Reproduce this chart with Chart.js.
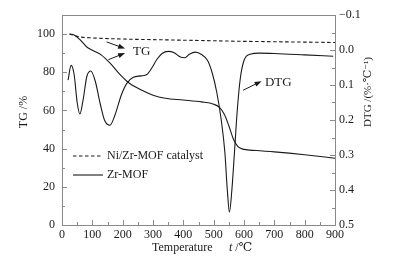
<!DOCTYPE html>
<html>
<head>
<meta charset="utf-8">
<script src="https://cdn.jsdelivr.net/npm/chart.js@4.4.0/dist/chart.umd.min.js"></script>
<style>
  html, body { margin: 0; padding: 0; background: #fff; }
  #wrap { width: 410px; height: 265px; }
</style>
</head>
<body>
<div id="wrap"><canvas id="chart"></canvas></div>
<script>
// values (temperature in °C)
const catTemp = [25, 60, 100, 200, 300, 400, 500, 600, 700, 800, 900];
const catTG   = [100, 98.5, 98, 97.4, 97.1, 96.8, 96.5, 96.2, 96, 95.8, 95.6];

const mofTemp = [25, 40, 60, 80, 100, 130, 160, 190, 220, 260, 300, 340, 400, 460, 500, 520, 535, 550, 565, 580, 600, 640, 700, 800, 900];
const mofTG   = [100, 99.5, 97, 93.5, 91.5, 89, 84.5, 79, 74.5, 70.8, 68, 66.4, 65.5, 64.5, 63.3, 61.5, 58, 52, 45, 41, 39.6, 39, 38.3, 36.8, 35];

const dtgTemp = [20, 30, 40, 50, 59, 70, 82, 95, 110, 125, 140, 158, 175, 195, 213, 235, 260, 280, 297, 312, 330, 350, 370, 390, 405, 420, 440, 460, 480, 495, 510, 525, 537, 545, 552, 560, 568, 578, 588, 600, 620, 650, 700, 800, 894];
const mofDTG  = [0.086, 0.044, 0.07, 0.15, 0.183, 0.14, 0.075, 0.06, 0.09, 0.15, 0.2, 0.215, 0.185, 0.13, 0.096, 0.078, 0.074, 0.07, 0.05, 0.028, 0.01, 0.004, 0.008, 0.02, 0.022, 0.012, 0.006, 0.013, 0.03, 0.065, 0.12, 0.2, 0.293, 0.4, 0.463, 0.4, 0.3, 0.17, 0.08, 0.03, 0.012, 0.009, 0.01, 0.014, 0.018];

const serif = '"Liberation Serif", "DejaVu Serif", serif';
const ink = '#1a1a1a';
const axisGray = '#8a8a8a';

const pts = (xs, ys) => xs.map((x, i) => ({ x: x, y: ys[i] }));

function arrow(ctx, x1, y1, x2, y2) {
  const a = Math.atan2(y2 - y1, x2 - x1);
  const hl = 7, hw = 2.6;
  ctx.beginPath();
  ctx.moveTo(x1, y1);
  ctx.lineTo(x2 - hl * 0.8 * Math.cos(a), y2 - hl * 0.8 * Math.sin(a));
  ctx.stroke();
  ctx.beginPath();
  ctx.moveTo(x2, y2);
  ctx.lineTo(x2 - hl * Math.cos(a) + hw * Math.sin(a), y2 - hl * Math.sin(a) - hw * Math.cos(a));
  ctx.lineTo(x2 - hl * Math.cos(a) - hw * Math.sin(a), y2 - hl * Math.sin(a) + hw * Math.cos(a));
  ctx.closePath();
  ctx.fill();
}

// inward ticks, top frame, labels, arrows, legend
const decor = {
  id: 'decor',
  afterDraw(chart) {
    const { ctx, chartArea: ca, scales } = chart;
    const x = scales.x, y = scales.y, y2 = scales.y2;
    ctx.save();
    ctx.strokeStyle = axisGray;
    ctx.lineWidth = 1;
    ctx.beginPath();
    ctx.moveTo(ca.left, ca.top + 0.5);
    ctx.lineTo(ca.right, ca.top + 0.5);
    ctx.stroke();

    ctx.beginPath();
    x.ticks.forEach(t => {
      const px = Math.round(x.getPixelForValue(t.value)) + 0.5;
      const len = t.value % 100 === 0 ? 5 : 3;
      ctx.moveTo(px, ca.bottom); ctx.lineTo(px, ca.bottom - len);
    });
    y.ticks.forEach(t => {
      const py = Math.round(y.getPixelForValue(t.value)) + 0.5;
      const len = t.value % 20 === 0 ? 5 : 3;
      ctx.moveTo(ca.left, py); ctx.lineTo(ca.left + len, py);
    });
    y2.ticks.forEach(t => {
      const py = Math.round(y2.getPixelForValue(t.value)) + 0.5;
      const len = Math.round(t.value * 100) % 10 === 0 ? 5 : 3;
      ctx.moveTo(ca.right, py); ctx.lineTo(ca.right - len, py);
    });
    ctx.stroke();

    ctx.fillStyle = ink;
    ctx.strokeStyle = ink;
    ctx.lineWidth = 1;
    ctx.textBaseline = 'middle';

    // TG annotation
    arrow(ctx, x.getPixelForValue(147), y.getPixelForValue(95.9), x.getPixelForValue(208), y.getPixelForValue(92.4));
    arrow(ctx, x.getPixelForValue(153), y.getPixelForValue(86.6), x.getPixelForValue(208), y.getPixelForValue(90.1));
    ctx.font = '13px ' + serif;
    ctx.textAlign = 'left';
    ctx.fillText('TG', x.getPixelForValue(234), y.getPixelForValue(90.8));

    // DTG annotation
    arrow(ctx, x.getPixelForValue(597), y2.getPixelForValue(0.115), x.getPixelForValue(658), y2.getPixelForValue(0.089));
    ctx.fillText('DTG', x.getPixelForValue(669), y2.getPixelForValue(0.093));

    // legend
    ctx.font = '12px ' + serif;
    ctx.lineWidth = 1.1;
    ctx.setLineDash([3.5, 2.5]);
    ctx.beginPath(); ctx.moveTo(73, 156); ctx.lineTo(103, 156); ctx.stroke();
    ctx.setLineDash([]);
    ctx.beginPath(); ctx.moveTo(73, 175); ctx.lineTo(103, 175); ctx.stroke();
    ctx.fillText('Ni/Zr-MOF catalyst', 107, 156);
    ctx.fillText('Zr-MOF', 107, 175);

    // axis titles
    ctx.textAlign = 'left';
    ctx.fillText('Temperature', 152, 248);
    ctx.font = 'italic 12px ' + serif;
    ctx.fillText('t', 229, 248);
    const tw = ctx.measureText('t').width;
    ctx.font = '12px ' + serif;
    ctx.fillText(' /\u2103', 229 + tw, 248);

    ctx.save();
    ctx.translate(24, 112);
    ctx.rotate(-Math.PI / 2);
    ctx.textAlign = 'center';
    ctx.fillText('TG /%', 0, 0);
    ctx.restore();

    ctx.save();
    ctx.translate(368, 92);
    ctx.rotate(-Math.PI / 2);
    ctx.textAlign = 'center';
    ctx.font = '11px ' + serif;
    ctx.fillText('DTG /(%\u00B7\u2103\u207B\u00B9)', 0, 0);
    ctx.restore();
    ctx.restore();
  }
};

Chart.defaults.font.family = serif;
Chart.defaults.font.size = 12;
Chart.defaults.color = ink;

const ctx = document.getElementById('chart').getContext('2d');
new Chart(ctx, {
  type: 'line',
  data: {
    datasets: [
      {
        label: 'Ni/Zr-MOF catalyst',
        data: pts(catTemp, catTG),
        yAxisID: 'y',
        borderColor: ink,
        borderWidth: 1.1,
        borderDash: [3.5, 2.5],
        pointRadius: 0,
        cubicInterpolationMode: 'monotone'
      },
      {
        label: 'Zr-MOF TG',
        data: pts(mofTemp, mofTG),
        yAxisID: 'y',
        borderColor: ink,
        borderWidth: 1.1,
        pointRadius: 0,
        cubicInterpolationMode: 'monotone'
      },
      {
        label: 'Zr-MOF DTG',
        data: pts(dtgTemp, mofDTG),
        yAxisID: 'y2',
        borderColor: ink,
        borderWidth: 1.1,
        pointRadius: 0,
        cubicInterpolationMode: 'monotone'
      }
    ]
  },
  options: {
    responsive: true,
    maintainAspectRatio: false,
    animation: false,
    layout: { padding: { top: 15, left: 0, right: 0, bottom: 0 } },
    plugins: { legend: { display: false }, tooltip: { enabled: false } },
    scales: {
      x: {
        type: 'linear',
        min: 0, max: 900,
        grid: { drawOnChartArea: false, drawTicks: false },
        border: { color: axisGray },
        ticks: {
          stepSize: 50, autoSkip: false, maxRotation: 0, padding: 3,
          callback: v => (v % 100 === 0 ? String(v) : '')
        },
        afterFit: s => { s.height = 40; }
      },
      y: {
        position: 'left',
        min: 0, max: 110,
        grid: { drawOnChartArea: false, drawTicks: false },
        border: { color: axisGray },
        ticks: {
          stepSize: 10, autoSkip: false, padding: 7,
          callback: v => (v % 20 === 0 && v <= 100 ? String(v) : '')
        },
        afterFit: s => { s.width = 62; }
      },
      y2: {
        position: 'right',
        reverse: true,
        min: -0.1, max: 0.5,
        grid: { drawOnChartArea: false, drawTicks: false },
        border: { color: axisGray },
        ticks: {
          stepSize: 0.05, autoSkip: false, padding: 4,
          callback: v => {
            const n = Math.round(v * 100);
            if (n % 10 !== 0) return '';
            return (n / 100).toFixed(1).replace('-', '\u2212');
          }
        },
        afterFit: s => { s.width = 75; }
      }
    }
  },
  plugins: [decor]
});
</script>
</body>
</html>
